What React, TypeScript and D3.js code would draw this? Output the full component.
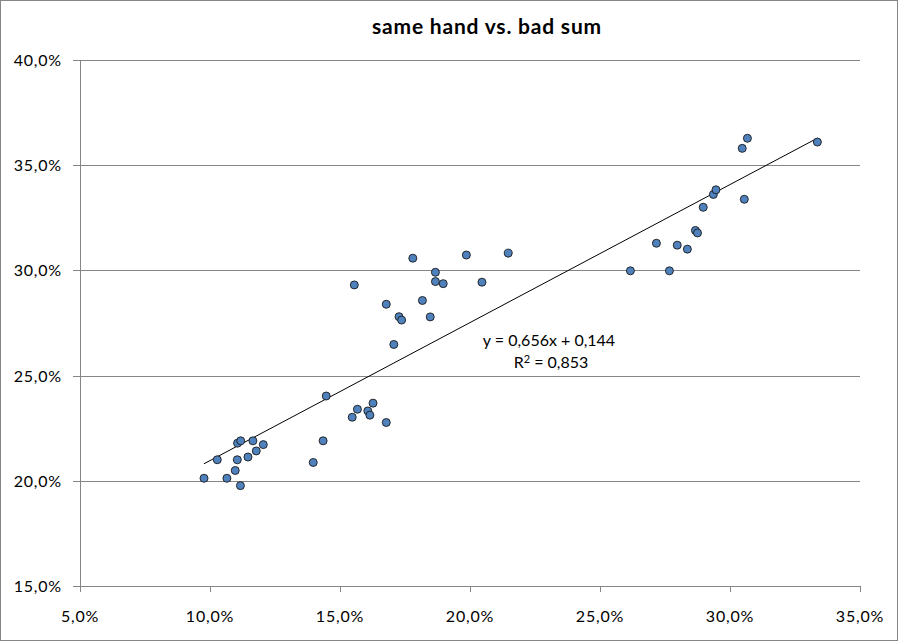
import React from "react";
import * as d3 from "d3";

const xValues = [
  9.77, 10.28, 10.65, 10.97, 11.05, 11.06, 11.18, 11.17, 11.46, 11.65, 11.78, 12.05,
  13.97, 14.35, 14.47, 15.47, 15.67, 15.55, 16.07, 16.15, 16.27, 16.78, 16.78, 17.07,
  17.27, 17.37, 17.8, 18.17, 18.47, 18.67, 18.67, 18.97, 19.86, 20.46, 21.47,
  26.17, 27.17, 27.67, 27.97, 28.36, 28.67, 28.75, 28.97, 29.36, 29.46, 30.55, 30.47,
  30.67, 33.36,
];
const yValues = [
  20.12, 21.0, 20.12, 20.49, 21.0, 21.79, 21.9, 19.77, 21.13, 21.9, 21.42, 21.72,
  20.87, 21.9, 24.03, 23.02, 23.4, 29.31, 23.32, 23.12, 23.69, 22.77, 28.39, 26.48,
  27.8, 27.64, 30.58, 28.57, 27.79, 29.91, 29.47, 29.37, 30.73, 29.44, 30.82,
  29.98, 31.29, 29.98, 31.2, 31.01, 31.9, 31.78, 33.0, 33.61, 33.83, 33.38, 35.8,
  36.28, 36.1,
];
const xTicks = [5, 10, 15, 20, 25, 30, 35];
const yTicks = [15, 20, 25, 30, 35, 40];
const slope = 0.656;
const intercept = 0.144;
const title = "same hand vs. bad sum";
const eqLine = "y = 0,656x + 0,144";
const r2Line = "0,853";

const W = 899;
const H = 643;
const font = "Lato, 'Open Sans', sans-serif";
const grid = "#868686";

export default function App() {
  const x = d3.scaleLinear().domain([5, 35]).range([80, 860]);
  const y = d3.scaleLinear().domain([15, 40]).range([586, 60]);
  const fmt = (v: number) => v.toFixed(1).replace(".", ",") + "%";
  const xMin = d3.min(xValues)!;
  const xMax = d3.max(xValues)!;
  const fit = (v: number) => (slope * (v / 100) + intercept) * 100;
  const line = d3.line<number>().x((d) => x(d)).y((d) => y(fit(d)));

  return (
    <svg
      width={W}
      height={H}
      style={{ position: "absolute", left: 0, top: 0, background: "#fff" }}
    >
      <rect x={0.5} y={0.5} width={897} height={640} fill="#fff" stroke={grid} />
      <text
        x={487}
        y={34}
        textAnchor="middle"
        fontFamily={font}
        fontWeight="bold"
        fontSize={21}
        letterSpacing={0.8}
        fill="#000"
      >
        {title}
      </text>
      {yTicks.map((t) => (
        <g key={"y" + t}>
          <line x1={73} x2={860} y1={Math.round(y(t)) + 0.5} y2={Math.round(y(t)) + 0.5} stroke={grid} />
          <text
            x={62}
            y={y(t) + 6}
            textAnchor="end"
            fontFamily={font}
            fontSize={16}
            letterSpacing={0.8}
            fill="#000"
          >
            {fmt(t)}
          </text>
        </g>
      ))}
      <line x1={80.5} x2={80.5} y1={y(40)} y2={y(15)} stroke={grid} />
      {xTicks.map((t) => (
        <g key={"x" + t}>
          <line
            x1={Math.round(x(t)) + 0.5}
            x2={Math.round(x(t)) + 0.5}
            y1={586}
            y2={592}
            stroke={grid}
          />
          <text
            x={x(t)}
            y={622}
            textAnchor="middle"
            fontFamily={font}
            fontSize={16}
            letterSpacing={0.8}
            fill="#000"
          >
            {fmt(t)}
          </text>
        </g>
      ))}
      <path d={line([xMin, xMax]) || ""} fill="none" stroke="#000" strokeWidth={1} />
      {xValues.map((xv, i) => (
        <circle
          key={i}
          cx={x(xv)}
          cy={y(yValues[i])}
          r={4}
          fill="#4F81BD"
          stroke="#1a1a1a"
          strokeWidth={0.9}
        />
      ))}
      <text x={549} y={346} textAnchor="middle" fontFamily={font} fontSize={16} fill="#000">
        {eqLine}
      </text>
      <text x={551} y={368} textAnchor="middle" fontFamily={font} fontSize={16} fill="#000">
        R<tspan dy={-5} fontSize={11}>2</tspan>
        <tspan dy={5}> = {r2Line}</tspan>
      </text>
    </svg>
  );
}
